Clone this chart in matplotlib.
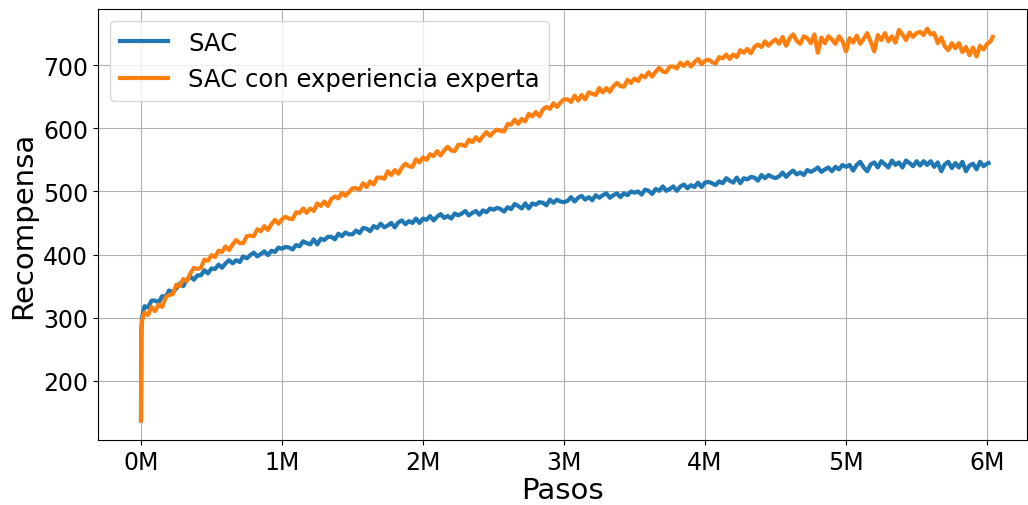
import numpy as np
import matplotlib
matplotlib.use("Agg")
from matplotlib import pyplot as plt
from matplotlib.ticker import FuncFormatter

# pasos (en millones): arranque denso y luego cada 0.025M
pasos_ini = [0.0, 0.003, 0.008, 0.015]
pasos_reg = list(np.round(np.arange(0.025, 6.001, 0.025), 3))

sac_ini = [137, 282, 300, 308]
sac = [
    318, 316, 327, 327, 324, 334, 333, 343, 340, 346, 354, 350, 360, 365, 360, 367, 367, 375, 370, 378,
    377, 384, 379, 386, 391, 386, 391, 388, 397, 394, 399, 403, 397, 401, 405, 399, 406, 404, 411, 409,
    412, 411, 408, 415, 413, 421, 418, 416, 424, 416, 425, 423, 428, 428, 424, 433, 429, 435, 432, 432,
    438, 434, 442, 441, 437, 445, 442, 449, 443, 446, 450, 443, 451, 454, 448, 453, 450, 457, 450, 457,
    455, 461, 454, 460, 464, 458, 461, 457, 465, 462, 465, 469, 462, 466, 469, 463, 470, 467, 473, 471,
    474, 472, 468, 475, 472, 480, 477, 473, 481, 473, 481, 479, 483, 482, 478, 487, 482, 487, 484, 483,
    485, 491, 484, 490, 493, 487, 491, 486, 494, 490, 494, 497, 490, 494, 497, 491, 497, 494, 500, 498,
    500, 495, 503, 501, 496, 504, 501, 508, 501, 504, 508, 501, 508, 511, 505, 510, 507, 514, 507, 514,
    515, 513, 510, 516, 513, 521, 517, 514, 522, 513, 521, 519, 523, 522, 517, 526, 521, 526, 523, 521,
    524, 530, 523, 529, 533, 527, 530, 526, 534, 531, 534, 538, 531, 535, 538, 532, 539, 535, 542, 539,
    542, 533, 542, 547, 538, 532, 543, 546, 538, 548, 543, 538, 549, 542, 546, 538, 549, 545, 540, 548,
    541, 548, 542, 548, 539, 546, 532, 543, 547, 537, 545, 538, 547, 532, 541, 544, 535, 547, 540, 544,
]
sac_fin_x = [6.01]
sac_fin = [545]

exp_ini = [137, 278, 295, 302]
exp = [
    308, 304, 317, 310, 321, 317, 332, 336, 337, 352, 350, 361, 358, 370, 379, 377, 379, 392, 390, 399,
    396, 406, 404, 413, 407, 416, 423, 418, 418, 429, 430, 429, 440, 437, 445, 439, 448, 455, 449, 456,
    460, 457, 456, 467, 466, 473, 466, 473, 469, 481, 477, 484, 477, 488, 492, 489, 498, 493, 499, 505,
    505, 503, 513, 507, 516, 511, 522, 522, 520, 532, 526, 534, 528, 538, 544, 540, 539, 551, 546, 554,
    550, 559, 556, 564, 557, 565, 571, 565, 564, 574, 574, 572, 582, 578, 586, 580, 588, 594, 588, 594,
    598, 596, 595, 607, 606, 614, 607, 615, 611, 623, 619, 626, 619, 630, 634, 631, 640, 634, 641, 646,
    646, 642, 652, 644, 653, 646, 657, 655, 653, 664, 657, 664, 658, 667, 672, 667, 666, 677, 672, 679,
    675, 684, 681, 689, 682, 690, 696, 690, 689, 698, 698, 695, 704, 699, 705, 698, 705, 710, 702, 707,
    709, 705, 703, 713, 711, 717, 710, 717, 713, 724, 720, 726, 719, 729, 733, 729, 738, 731, 737, 741,
    734, 745, 731, 743, 749, 739, 734, 746, 743, 735, 749, 720, 744, 735, 746, 741, 734, 746, 738, 722,
    743, 736, 747, 734, 742, 751, 737, 722, 748, 740, 751, 738, 746, 736, 756, 749, 740, 752, 745, 751,
    753, 748, 758, 749, 751, 735, 744, 730, 724, 735, 727, 735, 721, 729, 716, 728, 714, 731, 725, 734,
]
exp_fin_x = [6.025, 6.04]
exp_fin = [738, 745]

x_sac = np.array(pasos_ini + pasos_reg + sac_fin_x) * 1e6
y_sac = np.array(sac_ini + sac + sac_fin)
x_exp = np.array(pasos_ini + pasos_reg + exp_fin_x) * 1e6
y_exp = np.array(exp_ini + exp + exp_fin)

fig = plt.figure(figsize=(10.28, 5.06), dpi=100)
ax = fig.add_axes([0.0953, 0.1285, 0.904, 0.8515])

ax.plot(x_sac, y_sac, color="C0", lw=3, label="SAC")
ax.plot(x_exp, y_exp, color="C1", lw=3, label="SAC con experiencia experta")

ax.set_xlim(-0.305e6, 6.285e6)
ax.xaxis.set_major_formatter(FuncFormatter(lambda v, p: f"{v/1e6:.0f}M"))
ax.set_xticks(np.arange(0, 7) * 1e6)
ax.set_yticks([200, 300, 400, 500, 600, 700])
ax.tick_params(labelsize=17)
ax.set_xlabel("Pasos", fontsize=21, labelpad=2)
ax.set_ylabel("Recompensa", fontsize=21)
ax.grid(True)
ax.legend(loc="upper left", fontsize=17.5)

fig.savefig("out.png", dpi=100)
